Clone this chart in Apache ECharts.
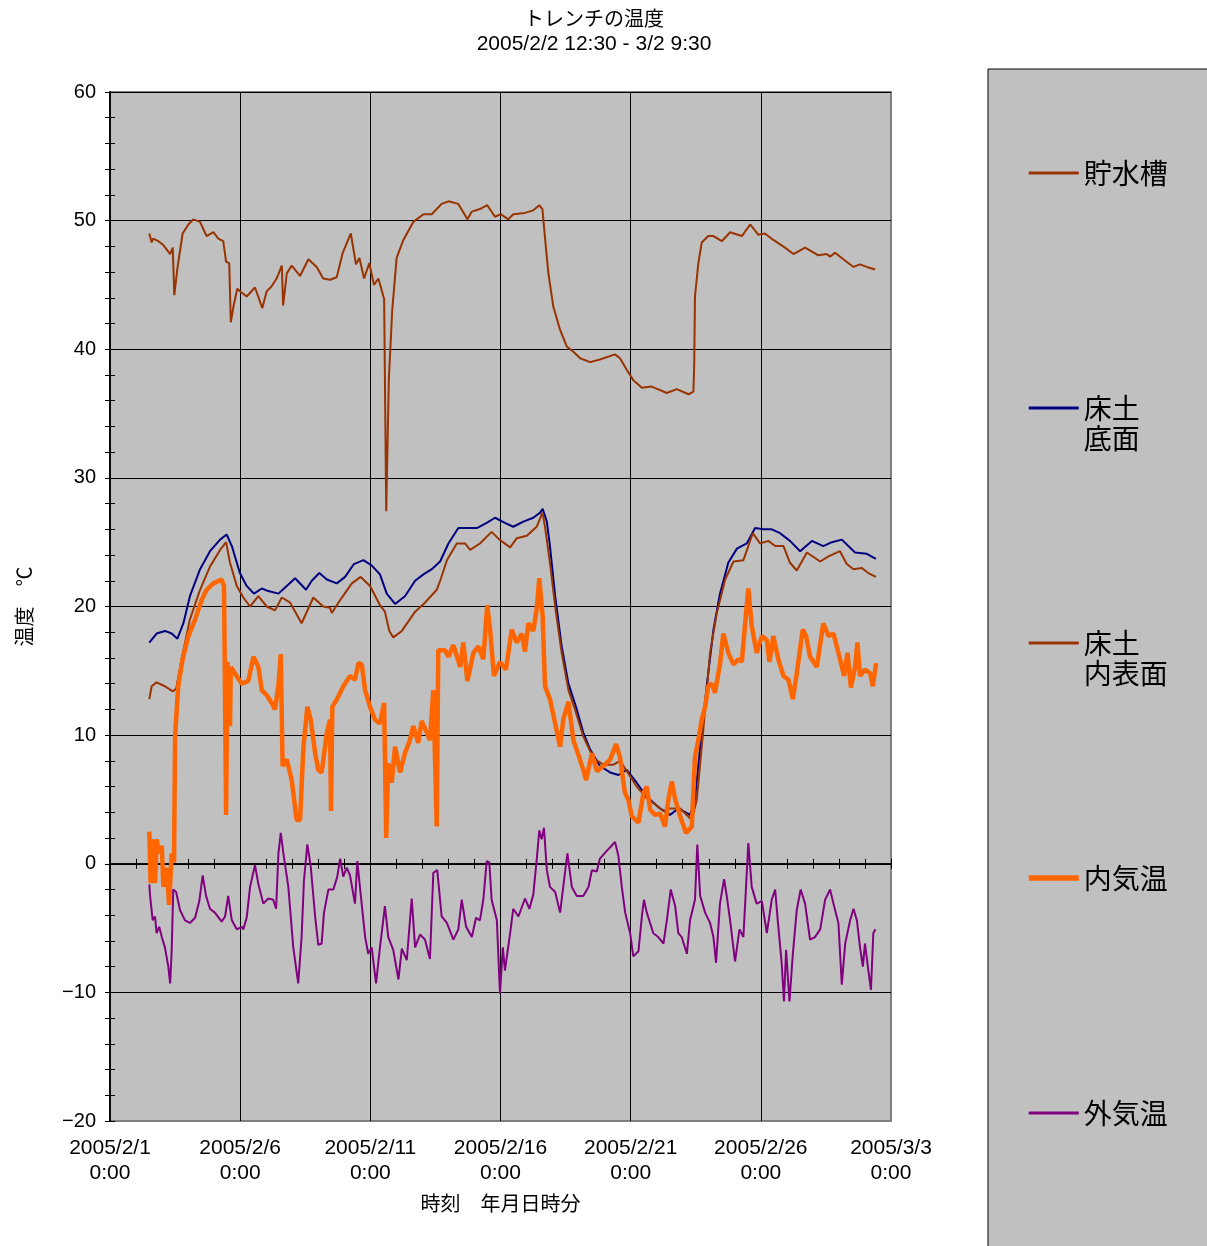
<!DOCTYPE html>
<html>
<head>
<meta charset="utf-8">
<script src="https://cdn.jsdelivr.net/npm/echarts@6/dist/echarts.min.js"></script>
<style>html,body{margin:0;padding:0;background:#fff}#c{width:1207px;height:1246px}</style>
</head>
<body>
<div id="c"></div>
<script>
// x values: days since 2005/2/1 0:00 ; y values: °C
const xTickLabels = ['2005/2/1', '2005/2/6', '2005/2/11', '2005/2/16', '2005/2/21', '2005/2/26', '2005/3/3'];
const seriesNames = ['貯水槽', '床土底面', '床土内表面', '内気温', '外気温'];
const legendLabels = ['\n貯水槽\n', '\n床土\n底面', '\n床土\n内表面', '\n内気温\n', '\n外気温\n'];

const tank = [[1.51,49.0],[1.60,48.3],[1.66,48.6],[1.86,48.4],[2.05,48.1],[2.31,47.4],[2.41,47.9],[2.47,44.2],[2.59,46.3],[2.79,49.0],[3.01,49.7],[3.20,50.1],[3.46,49.9],[3.71,48.8],[3.97,49.1],[4.16,48.6],[4.35,48.4],[4.46,46.8],[4.58,46.7],[4.64,42.1],[4.74,43.3],[4.89,44.7],[5.06,44.4],[5.25,44.1],[5.57,44.8],[5.85,43.2],[6.02,44.5],[6.21,44.9],[6.40,45.5],[6.60,46.5],[6.65,43.4],[6.79,45.9],[6.98,46.5],[7.30,45.7],[7.62,47.0],[7.94,46.4],[8.19,45.5],[8.45,45.4],[8.71,45.6],[8.94,47.5],[9.25,49.0],[9.45,46.6],[9.58,47.1],[9.76,45.5],[9.96,46.7],[10.14,45.0],[10.31,45.5],[10.53,43.9],[10.61,27.4],[10.71,37.6],[10.84,43.0],[11.01,47.1],[11.27,48.5],[11.65,49.9],[12.04,50.5],[12.36,50.5],[12.55,50.9],[12.74,51.3],[13.00,51.5],[13.38,51.3],[13.73,50.1],[13.90,50.7],[14.21,50.9],[14.49,51.2],[14.79,50.3],[15.01,50.5],[15.30,50.1],[15.49,50.5],[15.94,50.6],[16.26,50.8],[16.49,51.2],[16.61,50.9],[16.74,48.0],[16.84,45.9],[17.03,43.3],[17.29,41.5],[17.55,40.2],[17.80,39.8],[18.06,39.3],[18.44,39.0],[18.82,39.2],[19.40,39.6],[19.59,39.3],[19.85,38.4],[20.10,37.6],[20.43,37.0],[20.81,37.1],[21.39,36.6],[21.77,36.9],[22.22,36.5],[22.41,36.7],[22.44,38.7],[22.47,44.1],[22.60,46.7],[22.73,48.3],[22.98,48.8],[23.18,48.8],[23.50,48.4],[23.82,49.1],[24.27,48.8],[24.59,49.7],[24.91,48.9],[25.16,49.0],[25.48,48.5],[25.93,47.9],[26.25,47.4],[26.70,47.9],[27.21,47.3],[27.53,47.4],[27.66,47.2],[27.85,47.5],[28.17,47.0],[28.56,46.4],[28.81,46.6],[29.07,46.4],[29.39,46.2]];

const soilBottom = [[1.51,17.2],[1.79,17.9],[2.11,18.1],[2.37,17.9],[2.59,17.5],[2.82,18.7],[3.07,20.8],[3.46,22.9],[3.84,24.3],[4.23,25.2],[4.48,25.6],[4.68,24.7],[4.99,22.6],[5.25,21.6],[5.53,21.0],[5.83,21.4],[6.08,21.2],[6.47,21.0],[6.79,21.6],[7.11,22.2],[7.53,21.3],[7.75,22.0],[8.04,22.6],[8.33,22.1],[8.71,21.8],[9.03,22.3],[9.37,23.3],[9.73,23.6],[10.05,23.2],[10.37,22.5],[10.63,21.0],[10.95,20.2],[11.33,20.8],[11.72,22.0],[12.04,22.5],[12.36,22.9],[12.68,23.5],[13.00,24.9],[13.38,26.1],[13.70,26.1],[14.09,26.1],[14.47,26.5],[14.79,26.9],[15.17,26.5],[15.49,26.2],[15.88,26.6],[16.26,26.9],[16.52,27.3],[16.62,27.6],[16.78,26.6],[16.90,24.7],[17.10,20.8],[17.35,16.9],[17.61,14.0],[17.93,12.0],[18.18,10.2],[18.44,8.9],[18.82,7.6],[19.21,7.1],[19.53,6.9],[19.85,7.3],[20.23,6.3],[20.62,5.2],[21.13,4.3],[21.51,3.8],[21.83,4.3],[22.28,3.8],[22.47,5.0],[22.67,9.1],[22.92,13.8],[23.18,18.2],[23.43,21.0],[23.75,23.4],[24.08,24.5],[24.46,24.9],[24.78,26.1],[25.10,26.0],[25.42,26.0],[25.74,25.7],[26.12,25.1],[26.51,24.3],[26.96,25.1],[27.40,24.7],[27.73,25.0],[28.11,25.2],[28.62,24.2],[29.07,24.1],[29.42,23.7]];

const soilInner = [[1.51,12.8],[1.60,13.8],[1.79,14.1],[2.11,13.8],[2.41,13.4],[2.54,13.6],[2.75,15.9],[3.07,19.0],[3.46,21.3],[3.84,23.1],[4.23,24.4],[4.46,25.0],[4.61,23.4],[4.87,21.6],[5.12,20.7],[5.38,20.0],[5.70,20.8],[6.02,20.0],[6.34,19.7],[6.60,20.7],[6.92,20.3],[7.36,18.7],[7.81,20.7],[8.19,20.0],[8.45,19.9],[8.52,19.5],[8.84,20.5],[9.29,21.8],[9.63,22.3],[9.99,21.6],[10.37,20.1],[10.56,19.6],[10.73,18.1],[10.88,17.6],[11.21,18.1],[11.72,19.6],[12.10,20.3],[12.55,21.3],[12.70,22.1],[12.94,23.6],[13.32,24.9],[13.64,24.9],[13.83,24.4],[14.21,24.9],[14.66,25.8],[14.96,25.2],[15.37,24.6],[15.62,25.3],[16.01,25.5],[16.39,26.2],[16.61,27.3],[16.71,26.2],[16.90,23.4],[17.10,20.0],[17.35,16.4],[17.61,13.5],[17.86,12.0],[18.18,9.9],[18.57,8.2],[18.95,7.7],[19.34,7.7],[19.59,8.0],[19.85,7.2],[20.23,6.0],[20.62,5.1],[21.26,4.1],[21.51,4.3],[21.90,4.3],[22.35,3.4],[22.54,5.0],[22.79,10.4],[23.05,16.4],[23.31,19.5],[23.63,22.1],[23.95,23.5],[24.33,23.6],[24.52,24.7],[24.69,25.7],[24.97,24.9],[25.29,25.1],[25.55,24.7],[25.87,24.7],[26.12,23.4],[26.38,22.8],[26.77,24.2],[27.28,23.5],[27.60,23.9],[28.04,24.3],[28.30,23.3],[28.56,22.9],[28.88,23.0],[29.13,22.6],[29.42,22.3]];

const indoorAir = [[1.51,2.5],[1.56,-1.5],[1.66,1.9],[1.73,-1.5],[1.79,1.9],[1.89,0.8],[1.99,1.4],[2.05,-1.8],[2.18,-0.3],[2.27,-3.2],[2.37,0.8],[2.46,0.1],[2.50,9.9],[2.62,13.8],[2.79,15.9],[3.01,17.7],[3.27,19.0],[3.52,20.5],[3.71,21.3],[3.97,21.8],[4.29,22.1],[4.38,21.6],[4.46,3.8],[4.51,15.7],[4.61,10.7],[4.64,15.3],[4.80,14.8],[5.06,14.0],[5.31,14.2],[5.51,16.1],[5.70,15.3],[5.83,13.5],[6.02,13.1],[6.21,12.5],[6.34,12.0],[6.47,13.9],[6.56,16.3],[6.63,7.6],[6.79,8.1],[6.98,6.5],[7.17,3.4],[7.30,3.4],[7.43,9.1],[7.58,12.2],[7.71,11.2],[7.88,8.6],[8.00,7.3],[8.13,7.1],[8.33,10.2],[8.45,11.2],[8.49,4.1],[8.54,12.2],[8.77,13.0],[8.96,13.8],[9.22,14.6],[9.41,14.3],[9.54,15.6],[9.67,15.5],[9.80,13.5],[9.99,12.2],[10.18,11.2],[10.37,10.9],[10.53,12.5],[10.61,2.0],[10.69,7.8],[10.82,6.3],[10.95,9.1],[11.14,7.1],[11.33,8.6],[11.52,9.6],[11.65,10.7],[11.84,9.4],[11.97,11.1],[12.17,10.2],[12.29,9.6],[12.42,13.5],[12.55,2.9],[12.61,16.6],[12.87,16.6],[13.00,16.1],[13.19,17.0],[13.45,15.3],[13.57,17.2],[13.73,14.2],[13.96,16.4],[14.15,16.9],[14.34,15.9],[14.49,20.1],[14.60,18.2],[14.75,14.6],[14.98,15.7],[15.21,15.1],[15.43,18.2],[15.62,17.2],[15.82,17.9],[15.94,16.5],[16.07,18.7],[16.26,18.1],[16.39,19.8],[16.49,22.2],[16.62,19.2],[16.71,13.8],[16.90,12.8],[17.10,10.9],[17.29,9.1],[17.41,11.2],[17.61,12.6],[17.80,9.6],[17.99,8.5],[18.18,7.3],[18.29,6.5],[18.51,8.6],[18.70,7.2],[18.95,7.6],[19.21,8.1],[19.44,9.3],[19.59,8.3],[19.78,5.5],[19.91,5.0],[20.04,3.7],[20.30,3.2],[20.49,5.5],[20.62,6.0],[20.75,4.2],[20.94,3.8],[21.13,3.9],[21.32,2.9],[21.45,5.0],[21.58,6.4],[21.71,5.0],[21.90,3.7],[22.13,2.4],[22.35,2.9],[22.47,8.3],[22.60,9.6],[22.73,11.2],[22.86,12.2],[22.98,13.8],[23.12,14.0],[23.24,13.3],[23.43,15.5],[23.56,17.9],[23.75,16.4],[23.95,15.5],[24.14,15.9],[24.27,15.7],[24.39,18.5],[24.52,21.4],[24.65,18.5],[24.84,16.4],[25.04,17.7],[25.23,17.4],[25.33,15.7],[25.48,17.7],[25.67,15.9],[25.87,14.6],[26.06,14.3],[26.23,12.8],[26.38,14.8],[26.61,18.2],[26.74,17.7],[26.89,16.1],[27.15,15.3],[27.40,18.7],[27.60,17.7],[27.79,17.9],[27.98,16.4],[28.20,14.6],[28.33,16.4],[28.46,13.7],[28.62,15.3],[28.71,17.2],[28.81,14.6],[29.00,15.1],[29.20,14.8],[29.30,13.8],[29.43,15.6]];

const outdoorAir = [[1.51,-1.6],[1.54,-2.5],[1.64,-4.4],[1.73,-4.1],[1.79,-5.4],[1.89,-4.9],[1.99,-5.7],[2.11,-6.5],[2.24,-8.0],[2.31,-9.3],[2.37,-6.7],[2.43,-2.0],[2.54,-2.2],[2.69,-3.6],[2.88,-4.4],[3.07,-4.6],[3.27,-4.2],[3.43,-2.9],[3.56,-0.9],[3.69,-2.5],[3.84,-3.5],[4.03,-3.8],[4.29,-4.5],[4.42,-4.1],[4.54,-2.5],[4.68,-4.4],[4.87,-5.1],[5.06,-4.9],[5.12,-5.1],[5.25,-4.2],[5.38,-1.8],[5.57,-0.1],[5.70,-1.6],[5.89,-3.1],[6.08,-2.7],[6.27,-2.8],[6.38,-3.5],[6.47,0.8],[6.56,2.4],[6.66,0.8],[6.85,-1.8],[7.04,-6.5],[7.23,-9.3],[7.36,-5.7],[7.45,-1.3],[7.58,1.5],[7.71,-0.2],[7.88,-4.1],[8.00,-6.3],[8.13,-6.2],[8.22,-3.8],[8.39,-2.0],[8.58,-2.0],[8.73,-1.0],[8.84,0.4],[8.96,-1.0],[9.09,-0.3],[9.22,-0.9],[9.41,-3.1],[9.50,0.2],[9.60,-1.8],[9.80,-5.7],[9.92,-7.0],[10.05,-6.5],[10.22,-9.3],[10.37,-6.5],[10.56,-3.3],[10.69,-5.7],[10.88,-6.7],[11.08,-9.0],[11.21,-6.6],[11.40,-7.5],[11.59,-2.7],[11.72,-6.5],[11.91,-5.5],[12.10,-5.9],[12.29,-7.4],[12.42,-0.7],[12.57,-0.5],[12.74,-4.1],[12.94,-4.6],[13.19,-5.9],[13.38,-5.1],[13.51,-2.8],[13.68,-4.9],[13.90,-5.7],[14.06,-4.2],[14.21,-4.4],[14.34,-2.8],[14.47,0.2],[14.57,0.1],[14.66,-2.8],[14.86,-4.4],[14.98,-10.1],[15.09,-6.5],[15.17,-8.3],[15.37,-5.4],[15.49,-3.5],[15.69,-4.1],[15.94,-2.7],[16.11,-3.5],[16.26,-2.4],[16.39,0.3],[16.49,2.6],[16.58,1.9],[16.67,2.8],[16.78,-0.5],[16.90,-1.8],[17.10,-2.2],[17.29,-3.8],[17.41,-1.8],[17.57,0.8],[17.74,-1.8],[17.93,-2.5],[18.18,-2.5],[18.38,-1.8],[18.51,-0.5],[18.70,-0.6],[18.82,0.4],[19.08,1.0],[19.27,1.4],[19.40,1.7],[19.53,0.6],[19.66,-1.8],[19.79,-3.8],[19.98,-5.4],[20.10,-7.2],[20.30,-6.8],[20.43,-4.1],[20.51,-2.8],[20.62,-3.8],[20.87,-5.4],[21.06,-5.7],[21.26,-6.2],[21.39,-4.4],[21.54,-2.0],[21.71,-3.3],[21.83,-5.4],[21.96,-5.7],[22.16,-7.0],[22.28,-4.4],[22.47,-2.8],[22.56,1.5],[22.67,-2.5],[22.86,-3.8],[23.05,-4.6],[23.18,-5.7],[23.28,-7.7],[23.43,-3.1],[23.59,-1.2],[23.69,-2.5],[23.82,-4.4],[24.01,-7.6],[24.18,-5.1],[24.33,-5.7],[24.52,1.6],[24.65,-1.8],[24.84,-3.1],[25.04,-2.9],[25.23,-5.4],[25.42,-2.8],[25.55,-2.0],[25.65,-4.4],[25.80,-7.7],[25.89,-10.7],[25.97,-6.7],[26.10,-10.7],[26.23,-7.0],[26.38,-3.6],[26.53,-2.0],[26.70,-3.1],[26.89,-5.9],[27.08,-5.7],[27.28,-5.1],[27.47,-2.8],[27.66,-2.0],[27.79,-3.1],[27.98,-4.6],[28.11,-9.4],[28.24,-6.2],[28.43,-4.4],[28.56,-3.5],[28.69,-4.4],[28.81,-6.5],[28.92,-8.0],[29.00,-6.2],[29.13,-8.3],[29.23,-9.8],[29.32,-5.4],[29.40,-5.1]];

const seriesData = [tank, soilBottom, soilInner, indoorAir, outdoorAir];
const seriesColors = ['#993300', '#000080', '#993300', '#FF6600', '#800080'];
const seriesWidths = [2, 2, 2, 4.5, 2];
const legendWidths = [3, 3, 3, 5.5, 3];

const LATIN = 'Liberation Sans, Arial, Noto Sans CJK JP, sans-serif';
const CJK = 'Noto Sans CJK JP, sans-serif';

const chart = echarts.init(document.getElementById('c'), null, {renderer: 'canvas'});
const minorTick = {show: true, splitNumber: 5, length: 5, lineStyle: {color: '#000', width: 1}};

chart.setOption({
  animation: false,
  backgroundColor: '#ffffff',
  title: {
    text: 'トレンチの温度',
    subtext: '2005/2/2 12:30 - 3/2 9:30',
    left: 589, top: 3, textAlign: 'center', itemGap: 6,
    textStyle: {fontFamily: CJK, fontSize: 20, fontWeight: 'normal', color: '#000'},
    subtextStyle: {fontFamily: LATIN, fontSize: 21, color: '#000'}
  },
  graphic: [{
    type: 'rect', z: 0, silent: true,
    shape: {x: 988, y: 69, width: 260, height: 1220},
    style: {fill: '#C0C0C0', stroke: '#000', lineWidth: 1}
  }],
  legend: {
    orient: 'vertical', left: 1026, top: 128, padding: 0, itemGap: 145,
    itemWidth: 50, itemHeight: 14,
    data: seriesNames.map(function (name, i) {
      return {name: name, lineStyle: {width: legendWidths[i], color: seriesColors[i]}};
    }),
    itemStyle: {opacity: 0, borderWidth: 0},
    formatter: function (name) { return legendLabels[seriesNames.indexOf(name)]; },
    textStyle: {fontFamily: CJK, fontSize: 28, lineHeight: 30, color: '#000', padding: [0, 0, 0, 0]},
    selectedMode: false
  },
  grid: {
    left: 110, right: 316, top: 92, bottom: 125,
    outerBoundsMode: 'none',
    show: true, backgroundColor: '#C0C0C0', borderColor: '#808080', borderWidth: 2
  },
  xAxis: [{
    type: 'value', position: 'bottom', min: 0, max: 30, interval: 5,
    axisLine: {show: true, onZero: true, lineStyle: {color: '#000', width: 1.5}},
    axisTick: {show: true, length: 5, lineStyle: {color: '#000'}},
    minorTick: minorTick,
    splitLine: {show: true, showMinLine: false, showMaxLine: false, lineStyle: {color: '#000', width: 1}},
    axisLabel: {
      margin: 15, fontFamily: LATIN, fontSize: 21, lineHeight: 25, color: '#000',
      formatter: function (v) { return xTickLabels[Math.round(v / 5)] + '\n0:00'; }
    },
    name: '時刻　年月日時分', nameLocation: 'middle', nameGap: 72,
    nameTextStyle: {fontFamily: CJK, fontSize: 20, color: '#000'}
  }, {
    type: 'value', position: 'top', min: 0, max: 30, interval: 5,
    axisLine: {show: true, onZero: true, lineStyle: {color: '#000', width: 1.5}},
    axisTick: {show: true, length: 5, lineStyle: {color: '#000'}},
    minorTick: minorTick,
    splitLine: {show: false}, axisLabel: {show: false}
  }],
  yAxis: [{
    type: 'value', position: 'left', min: -20, max: 60, interval: 10,
    axisLine: {show: true, lineStyle: {color: '#000', width: 1.5}},
    axisTick: {show: true, length: 5, lineStyle: {color: '#000'}},
    minorTick: minorTick,
    splitLine: {show: true, showMinLine: false, lineStyle: {color: '#000', width: 1}},
    axisLabel: {
      margin: 14, fontFamily: LATIN, fontSize: 20, color: '#000',
      formatter: function (v) { return v < 0 ? '\u2212' + (-v) : String(v); }
    },
    name: '温度　℃', nameLocation: 'middle', nameGap: 76, nameRotate: 90,
    nameTextStyle: {fontFamily: CJK, fontSize: 20, color: '#000'}
  }, {
    type: 'value', position: 'right', min: -20, max: 60, interval: 10,
    axisLine: {show: true, onZero: true, lineStyle: {color: '#000', width: 1.5}},
    axisTick: {show: true, length: 5, lineStyle: {color: '#000'}},
    minorTick: minorTick,
    splitLine: {show: false}, axisLabel: {show: false}
  }],
  series: seriesNames.map(function (name, i) {
    return {
      name: name, type: 'line', xAxisIndex: 0, yAxisIndex: 0,
      data: seriesData[i], symbol: 'none', showSymbol: false,
      color: seriesColors[i],
      lineStyle: {color: seriesColors[i], width: seriesWidths[i]},
      emphasis: {disabled: true}, z: 2 + i
    };
  })
});
</script>
</body>
</html>
